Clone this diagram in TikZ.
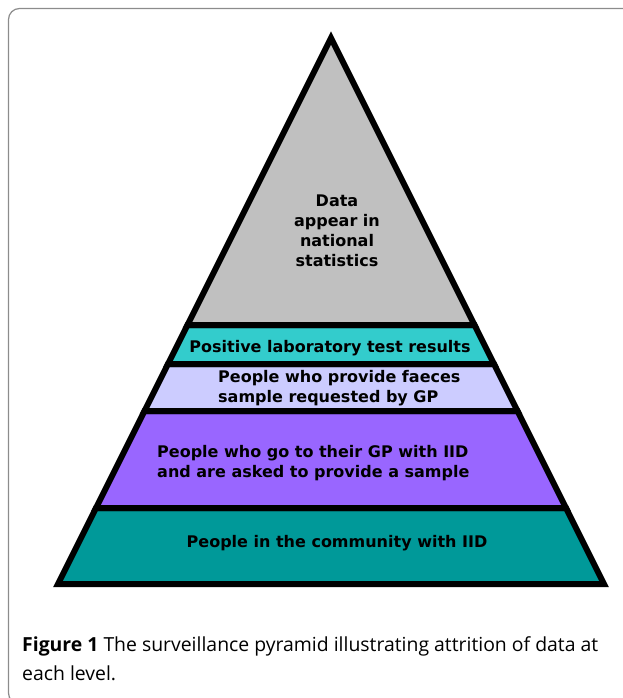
\documentclass[tikz,border=0pt]{standalone}
\usepackage{fontspec}
\newfontfamily\boxfont{DejaVu Sans}
\newfontfamily\capfont{Open Sans}
\definecolor{tipgray}{HTML}{C0C0C0}
\definecolor{labteal}{HTML}{33CCCC}
\definecolor{lavend}{HTML}{CCCCFF}
\definecolor{violet}{HTML}{9966FF}
\definecolor{deepteal}{HTML}{009999}
\begin{document}
\begin{tikzpicture}[x=1pt,y=-1pt,
  band/.style={draw=black,line width=6pt,line join=miter},
  bandtext/.style={font=\boxfont\bfseries\fontsize{16}{20}\selectfont,inner sep=0pt,text=black},
  frame/.style={draw=black!45,line width=1.2pt,rounded corners=11pt}]
\useasboundingbox (0,0) rectangle (623,698);
\begin{scope}
\clip (0,0) rectangle (623,698);
\draw[frame] (8.5,8.5) rectangle (660,704);
\end{scope}
% pyramid bands (centre-line apex at (331,38), half width 0.5*(y-38))
\filldraw[band,fill=deepteal] (96,508) -- (566,508) -- (604,584) -- (58,584) -- cycle;
\filldraw[band,fill=violet] (144.5,411) -- (517.5,411) -- (566,508) -- (96,508) -- cycle;
\filldraw[band,fill=lavend] (168,364) -- (494,364) -- (517.5,411) -- (144.5,411) -- cycle;
\filldraw[band,fill=labteal] (187.5,325) -- (474.5,325) -- (494,364) -- (168,364) -- cycle;
\filldraw[band,fill=tipgray] (331,38) -- (474.5,325) -- (187.5,325) -- cycle;
% texts
\node[bandtext,align=center] (tip) at (337,231) {Data\\appear in\\national\\statistics};
\node[bandtext] (lab) at (330,348) {Positive laboratory test results};
\node[bandtext,align=left,anchor=west] (faeces) at (218,388) {People who provide faeces\\sample requested by GP};
\node[bandtext,align=left,anchor=west] (gp) at (157,463.5) {People who go to their GP with IID\\and are asked to provide a sample};
\node[bandtext] (comm) at (337,543) {People in the community with IID};
\node[font=\capfont\fontsize{19.4}{29}\selectfont,inner sep=0pt,align=left,anchor=west] (cap) at (22,659)
  {\textbf{Figure 1} The surveillance pyramid illustrating attrition of data at\\each level.};
\end{tikzpicture}
\end{document}
